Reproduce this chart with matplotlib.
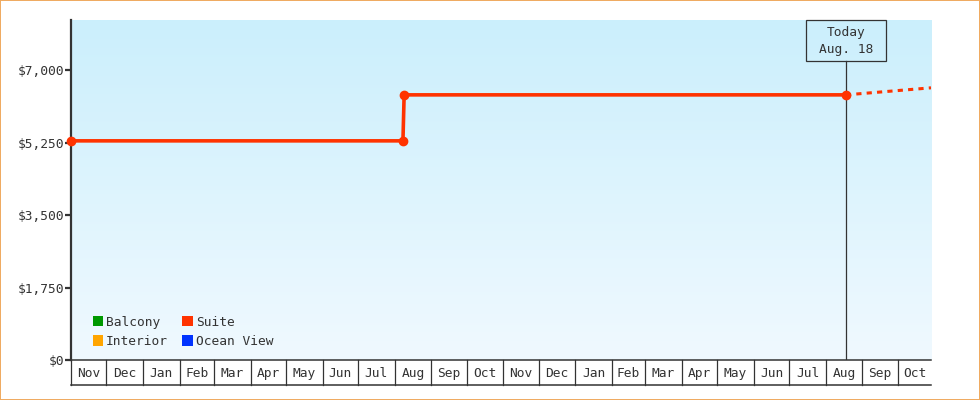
import matplotlib
matplotlib.use("Agg")
import matplotlib.pyplot as plt
import matplotlib.dates as mdates
from matplotlib.patches import Patch, Rectangle
import numpy as np
import pandas as pd

# ---- data ----
series_names = ["Balcony", "Interior", "Suite", "Ocean View"]
series_colors = ["#009900", "#ffa500", "#ff3300", "#0033ff"]
suite_dates = ["2023-11-01", "2024-08-08", "2024-08-09", "2025-08-18"]
suite_prices = [5290, 5290, 6400, 6400]
forecast_dates = ["2025-08-18", "2025-10-29"]
forecast_prices = [6400, 6570]
yticks = [0, 1750, 3500, 5250, 7000]
ytick_labels = ["$0", "$1,750", "$3,500", "$5,250", "$7,000"]
month_labels = ["Nov", "Dec", "Jan", "Feb", "Mar", "Apr", "May", "Jun", "Jul", "Aug", "Sep", "Oct",
                "Nov", "Dec", "Jan", "Feb", "Mar", "Apr", "May", "Jun", "Jul", "Aug", "Sep", "Oct"]
x_start, x_end = "2023-11-01", "2025-10-29"
today = "2025-08-18"
today_label = "Today\nAug. 18"

FONT = "DejaVu Sans Mono"
TXT = "#333333"
plt.rcParams["font.family"] = FONT

fig = plt.figure(figsize=(9.8, 4.0), dpi=100)
W, H = 980, 400
L, R, T, B = 71, 931, 20, 360
ax = fig.add_axes([L / W, 1 - B / H, (R - L) / W, (B - T) / H])

x0 = mdates.date2num(pd.Timestamp(x_start))
x1 = mdates.date2num(pd.Timestamp(x_end))
ax.set_xlim(x0, x1)
ax.set_ylim(0, 8207)

# gradient background
grad = np.linspace(0, 1, 256).reshape(-1, 1)
top = np.array([0xcb, 0xef, 0xfc]) / 255
bot = np.array([0xf0, 0xf9, 0xff]) / 255
img = top[None, None, :] * (1 - grad[:, :, None]) + bot[None, None, :] * grad[:, :, None]
ax.imshow(img, extent=[0, 1, 0, 1], transform=ax.transAxes, aspect="auto", zorder=0)

sd = mdates.date2num(pd.to_datetime(suite_dates))
fd = mdates.date2num(pd.to_datetime(forecast_dates))
suite_color = series_colors[series_names.index("Suite")]
ax.plot(sd, suite_prices, color=suite_color, lw=2.6, zorder=3, clip_on=False, solid_capstyle="butt")
ax.plot(sd, suite_prices, ls="none", marker="o", ms=6,
        color=suite_color, zorder=4, clip_on=False)
ax.plot(fd, forecast_prices, color=suite_color, lw=2.2, dashes=(1.7, 1.7), zorder=3,
        solid_capstyle="butt")

# today marker
td = mdates.date2num(pd.Timestamp(today))
box_top, box_bot = 20, 60.7
ax.axvline(td, ymin=0, ymax=(B - box_bot) / (B - T), color=TXT, lw=0.9, zorder=2)
# box centred on the today line (80 px wide)
tx_fig = ax.transData.transform((td, 0))[0] / W
box_w = 80.5 / W
fig.patches.append(Rectangle((tx_fig - box_w / 2, 1 - box_bot / H), box_w, (box_bot - box_top) / H,
                             transform=fig.transFigure, fill=False, ec=TXT, lw=0.9, zorder=5))
fig.text(tx_fig, 1 - ((box_top + box_bot) / 2 + 0.5) / H, today_label, ha="center", va="center",
         fontsize=9.3, color=TXT, linespacing=1.45, zorder=5)

# axes styling
for s in ["top", "right", "bottom"]:
    ax.spines[s].set_visible(False)
ax.spines["left"].set_color(TXT)
ax.spines["left"].set_linewidth(1.6)
ax.set_yticks(yticks)
ax.set_yticklabels(ytick_labels)
ax.tick_params(axis="y", length=4, width=1.6, color=TXT, labelcolor=TXT, labelsize=9.3, pad=1)
ax.set_xticks([])

# legend
handles = [Patch(facecolor=c, edgecolor="none", label=n) for n, c in zip(series_names, series_colors)]
leg = ax.legend(handles=handles, ncol=2, loc="lower left", bbox_to_anchor=(0.019, 0.02),
                frameon=False, fontsize=9.3, handlelength=0.85, handleheight=0.85,
                handletextpad=0.2, columnspacing=1.1, labelspacing=0.5, borderaxespad=0)
for t in leg.get_texts():
    t.set_color(TXT)

# month cells
ax2 = fig.add_axes([L / W, 1 - 385 / H, (R - L) / W, 25 / H])
ax2.set_xlim(x0, x1)
ax2.set_ylim(0, 1)
ax2.patch.set_alpha(0)
months = pd.date_range(x_start, x_end, freq="MS")
mnums = list(mdates.date2num(months)) + [x1]
for m in mnums[:-1]:
    ax2.axvline(m, color=TXT, lw=0.9, clip_on=False)
for i, lab in enumerate(month_labels):
    ax2.text((mnums[i] + mnums[i + 1]) / 2, 0.45, lab, ha="center", va="center",
             fontsize=9.3, color=TXT)
for s in ["left", "right"]:
    ax2.spines[s].set_visible(False)
for s in ["top", "bottom"]:
    ax2.spines[s].set_color(TXT)
    ax2.spines[s].set_linewidth(1.1)
ax2.set_xticks([])
ax2.set_yticks([])

# figure border
fig.patches.append(Rectangle((0.0005, 0.001), 0.999, 0.998, transform=fig.transFigure,
                             fill=False, ec="#efa95e", lw=1.4))

fig.savefig("out.png", dpi=100, facecolor="white")
